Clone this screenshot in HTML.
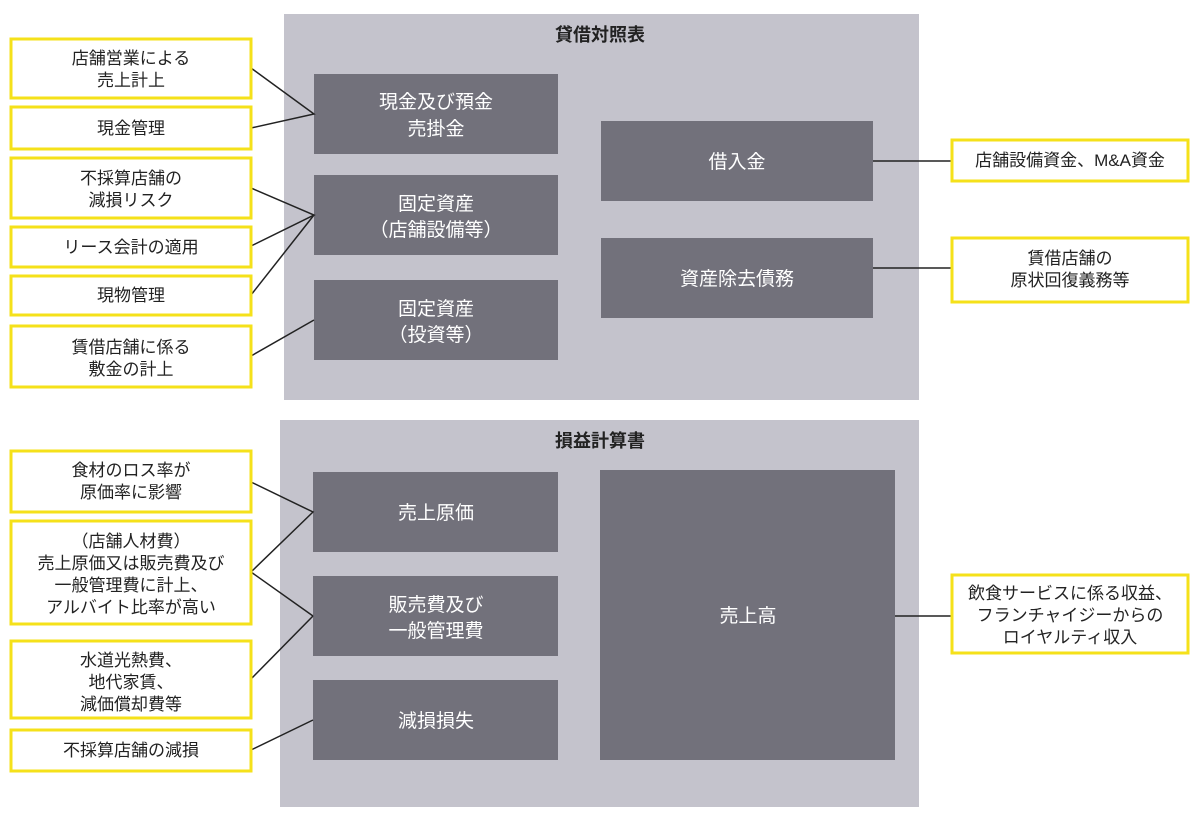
<!DOCTYPE html>
<html><head><meta charset="utf-8"><style>
body{margin:0;background:#fff;}
svg text{font-family:"Liberation Sans","Noto Sans CJK JP",sans-serif;}
</style></head><body>
<svg width="1200" height="815" viewBox="0 0 1200 815" xmlns="http://www.w3.org/2000/svg">
<g fill="#c4c3cc">
<rect x="284" y="14" width="635" height="386"/>
<rect x="280" y="420" width="639" height="387"/>
</g>
<g font-size="18" font-weight="bold" fill="#222" text-anchor="middle">
<text x="600" y="41">貸借対照表</text>
<text x="600" y="447">損益計算書</text>
</g>
<g fill="#72717b">
<rect x="314" y="74" width="244" height="80"/>
<rect x="314" y="175" width="244" height="80"/>
<rect x="314" y="280" width="244" height="80"/>
<rect x="601" y="121" width="272" height="80"/>
<rect x="601" y="238" width="272" height="80"/>
<rect x="313" y="472" width="245" height="80"/>
<rect x="313" y="576" width="245" height="80"/>
<rect x="313" y="680" width="245" height="80"/>
<rect x="600" y="470" width="295" height="290"/>
</g>
<g fill="#fff" font-size="19" text-anchor="middle">
<text x="436" y="108">現金及び預金</text><text x="436" y="135">売掛金</text>
<text x="436" y="210">固定資産</text><text x="436" y="236">（店舗設備等）</text>
<text x="436" y="315">固定資産</text><text x="436" y="341">（投資等）</text>
<text x="737" y="168">借入金</text>
<text x="737" y="285">資産除去債務</text>
<text x="436" y="519">売上原価</text>
<text x="436" y="611">販売費及び</text><text x="436" y="637">一般管理費</text>
<text x="436" y="727">減損損失</text>
<text x="748" y="622">売上高</text>
</g>
<g stroke="#222" stroke-width="1.5" fill="none">
<polyline points="251,68 314,114 251,128"/>
<polyline points="251,188 314,215 251,246"/>
<line x1="251" y1="295" x2="314" y2="215"/>
<line x1="251" y1="356" x2="314" y2="320"/>
<line x1="873" y1="161" x2="951" y2="161"/>
<line x1="873" y1="268" x2="951" y2="268"/>
<polyline points="251,482 313,512 251,572 313,616"/>
<line x1="251" y1="679" x2="313" y2="616"/>
<line x1="251" y1="750" x2="313" y2="720"/>
<line x1="895" y1="616" x2="951" y2="616"/>
</g>
<g fill="#fff" stroke="#f5e11a" stroke-width="3">
<rect x="11" y="39" width="240" height="59"/>
<rect x="11" y="107" width="240" height="42"/>
<rect x="11" y="158" width="240" height="60"/>
<rect x="11" y="227" width="240" height="40"/>
<rect x="11" y="276" width="240" height="39"/>
<rect x="11" y="326" width="240" height="61"/>
<rect x="952" y="140" width="236" height="41"/>
<rect x="952" y="238" width="236" height="64"/>
<rect x="11" y="451" width="240" height="61"/>
<rect x="11" y="521" width="240" height="103"/>
<rect x="11" y="641" width="240" height="77"/>
<rect x="11" y="730" width="240" height="41"/>
<rect x="952" y="575" width="236" height="78"/>
</g>
<g fill="#222" font-size="17" text-anchor="middle">
<text x="131" y="64">店舗営業による</text><text x="131" y="86">売上計上</text>
<text x="131" y="134">現金管理</text>
<text x="131" y="184">不採算店舗の</text><text x="131" y="206">減損リスク</text>
<text x="131" y="253">リース会計の適用</text>
<text x="131" y="301">現物管理</text>
<text x="131" y="353">賃借店舗に係る</text><text x="131" y="375">敷金の計上</text>
<text x="1070" y="166">店舗設備資金、M&amp;A資金</text>
<text x="1070" y="264">賃借店舗の</text><text x="1070" y="286">原状回復義務等</text>
<text x="131" y="476">食材のロス率が</text><text x="131" y="498">原価率に影響</text>
<text x="131" y="547">（店舗人材費）</text><text x="131" y="569">売上原価又は販売費及び</text><text x="131" y="591">一般管理費に計上、</text><text x="131" y="613">アルバイト比率が高い</text>
<text x="131" y="666">水道光熱費、</text><text x="131" y="688">地代家賃、</text><text x="131" y="710">減価償却費等</text>
<text x="131" y="756">不採算店舗の減損</text>
<text x="1070" y="599">飲食サービスに係る収益、</text><text x="1070" y="621">フランチャイジーからの</text><text x="1070" y="643">ロイヤルティ収入</text>
</g>
</svg>
</body></html>
